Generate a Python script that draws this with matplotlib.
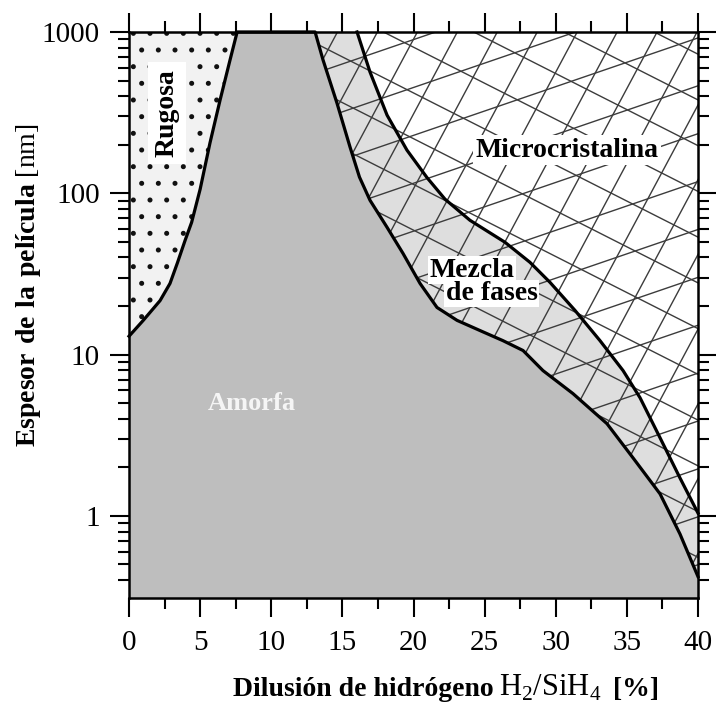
import numpy as np
import matplotlib
matplotlib.use("Agg")
import matplotlib.pyplot as plt
from matplotlib import ticker
from matplotlib.patches import Polygon
from matplotlib.collections import LineCollection

plt.rcParams['font.family'] = ['Liberation Serif', 'DejaVu Serif']
plt.rcParams['mathtext.fontset'] = 'custom'
plt.rcParams['mathtext.rm'] = 'Liberation Serif'
plt.rcParams['mathtext.bf'] = 'Liberation Serif:bold'
plt.rcParams['hatch.linewidth'] = 1.2

# phase boundaries: H2/SiH4 dilution [%] vs film thickness [nm]
rough_x = [0, 1.0, 2.18, 2.88, 3.4, 3.94, 4.4, 5.0, 5.69, 6.40, 7.1, 7.6]
rough_y = [13, 16.3, 21.6, 27.6, 37, 51, 66, 106, 205, 378, 670, 1000]

amorph_x = [13.08, 13.64, 14.62, 15.54, 16.2, 16.94, 18.14, 19.26, 20.46, 21.65, 23.06,
            24.67, 26.29, 27.70, 29.10, 31.21, 33.60, 35.43, 37.33, 38.73, 40.0]
amorph_y = [1000, 670, 362, 193, 126, 90.5, 61.5, 42.4, 27.6, 19.6, 16.3,
            14.1, 12.2, 10.6, 7.96, 5.73, 3.73, 2.29, 1.37, 0.773, 0.42]

micro_x = [16.03, 16.94, 18.14, 19.54, 20.95, 22.21, 23.97, 26.43, 28.19, 29.60,
           31.35, 33.11, 34.73, 35.92, 37.33, 38.73, 40.0]
micro_y = [1000, 565, 305, 185, 125, 92, 68, 49.7, 37.3, 28.0,
           18.8, 12.2, 7.96, 5.41, 3.05, 1.72, 1.04]

x_ticks = [0, 5, 10, 15, 20, 25, 30, 35, 40]
y_ticks = [1, 10, 100, 1000]
y_tick_labels = ['1', '10', '100', '1000']
xmin, xmax = 0, 40
ymin, ymax = 0.31, 1000

fig = plt.figure(figsize=(7.16, 7.04), dpi=100)
ax = fig.add_axes([0.1802, 0.1506, 0.7947, 0.8040])
ax.set_yscale('log')
ax.set_xlim(xmin, xmax)
ax.set_ylim(ymin, ymax)

rough = list(zip(rough_x, rough_y))
amorph = list(zip(amorph_x, amorph_y))
micro = list(zip(micro_x, micro_y))

# regions
rough_poly = [(xmin, ymax)] + rough[::-1]
amorph_poly = rough + amorph + [(xmax, ymin), (xmin, ymin)]
mix_poly = amorph + micro[::-1]
micro_poly = micro + [(xmax, ymax)]

ax.add_patch(Polygon(rough_poly, closed=True, facecolor='#f2f2f2', edgecolor='#111111',
                     hatch='.', lw=0, zorder=1))
ax.add_patch(Polygon(amorph_poly, closed=True, facecolor='#bebebe', lw=0, zorder=1))
ax.add_patch(Polygon(mix_poly, closed=True, facecolor='#dedede', lw=0, zorder=1))
ax.add_patch(Polygon(micro_poly, closed=True, facecolor='white', lw=0, zorder=1))

# cross hatching over the mixed and microcrystalline zones
clip = Polygon(amorph + [(xmax, ymax)], closed=True, transform=ax.transData,
               facecolor='none', lw=0)
ax.add_patch(clip)

def hatch_family(angle, spacing, phase):
    th = np.deg2rad(angle)
    d = np.array([np.cos(th), np.sin(th)])
    n = np.array([-np.sin(th), np.cos(th)])
    segs = []
    for c in np.arange(-1.6 + phase, 1.6, spacing):
        segs.append([c * n - 2 * d, c * n + 2 * d])
    return segs

segs = hatch_family(62, 0.062, 0.01) + hatch_family(-27, 0.072, 0.03) + hatch_family(19, 0.08, 0.05)
lc = LineCollection(segs, colors='#3c3c3c', linewidths=1.0, transform=ax.transAxes, zorder=2)
lc.set_clip_path(clip)
ax.add_collection(lc)

# boundary lines
ax.plot(rough_x + amorph_x, rough_y + amorph_y, color='black', lw=2.3, zorder=4,
        clip_on=False, solid_joinstyle='round')
ax.plot(micro_x, micro_y, color='black', lw=2.3, zorder=4, clip_on=False,
        solid_joinstyle='round')

# region names
ax.text(2.67, 314, 'Rugosa', rotation=90, ha='center', va='center', fontsize=20,
        fontweight='bold', zorder=5,
        bbox=dict(boxstyle='square,pad=0.25', facecolor='white', edgecolor='none'))
ax.text(8.65, 5.0, 'Amorfa', ha='center', va='center', fontsize=19, fontweight='bold',
        color='white', alpha=0.85, zorder=5)
ax.text(30.8, 185, 'Microcristalina', ha='center', va='center', fontsize=20,
        fontweight='bold', zorder=5,
        bbox=dict(boxstyle='square,pad=0.1', facecolor='white', edgecolor='none'))
ax.text(24.1, 33.3, 'Mezcla', ha='center', va='center', fontsize=20, fontweight='bold', zorder=5,
        bbox=dict(boxstyle='square,pad=0.05', facecolor='white', edgecolor='none'))
ax.text(25.5, 23.9, 'de fases', ha='center', va='center', fontsize=20, fontweight='bold', zorder=5,
        bbox=dict(boxstyle='square,pad=0.05', facecolor='white', edgecolor='none'))

# axes and ticks
ax.set_xticks(x_ticks)
ax.xaxis.set_minor_locator(ticker.MultipleLocator(2.5))
ax.yaxis.set_major_locator(ticker.FixedLocator(y_ticks))
ax.yaxis.set_major_formatter(ticker.FixedFormatter(y_tick_labels))
ax.yaxis.set_minor_locator(ticker.LogLocator(base=10, subs=np.arange(2, 10)))
ax.yaxis.set_minor_formatter(ticker.NullFormatter())
ax.tick_params(which='both', direction='out', top=True, right=True, width=1.5, labelsize=21)
ax.tick_params(which='major', length=14)
ax.tick_params(which='minor', length=8)
ax.tick_params(axis='x', which='major', pad=9)
ax.tick_params(axis='y', which='major', pad=7)
for s in ax.spines.values():
    s.set_linewidth(1.8)
    s.set_zorder(6)

fig.text(233 / 716, 0.012, 'Dilusión de hidrógeno', fontsize=20, fontweight='bold',
         ha='left', va='baseline')
fig.text(499 / 716, 0.012, r'H$_2$/SiH$_4$', fontsize=22, ha='left', va='baseline')
fig.text(613 / 716, 0.012, '[%]', fontsize=20, fontweight='bold', ha='left', va='baseline')

fig.text(29 / 716, (704 - 447) / 704, r'$\mathbf{Espesor\ de\ la\ película}$ [nm]',
         rotation=90, fontsize=20, ha='center', va='bottom')

fig.savefig('out.png', dpi=100)
